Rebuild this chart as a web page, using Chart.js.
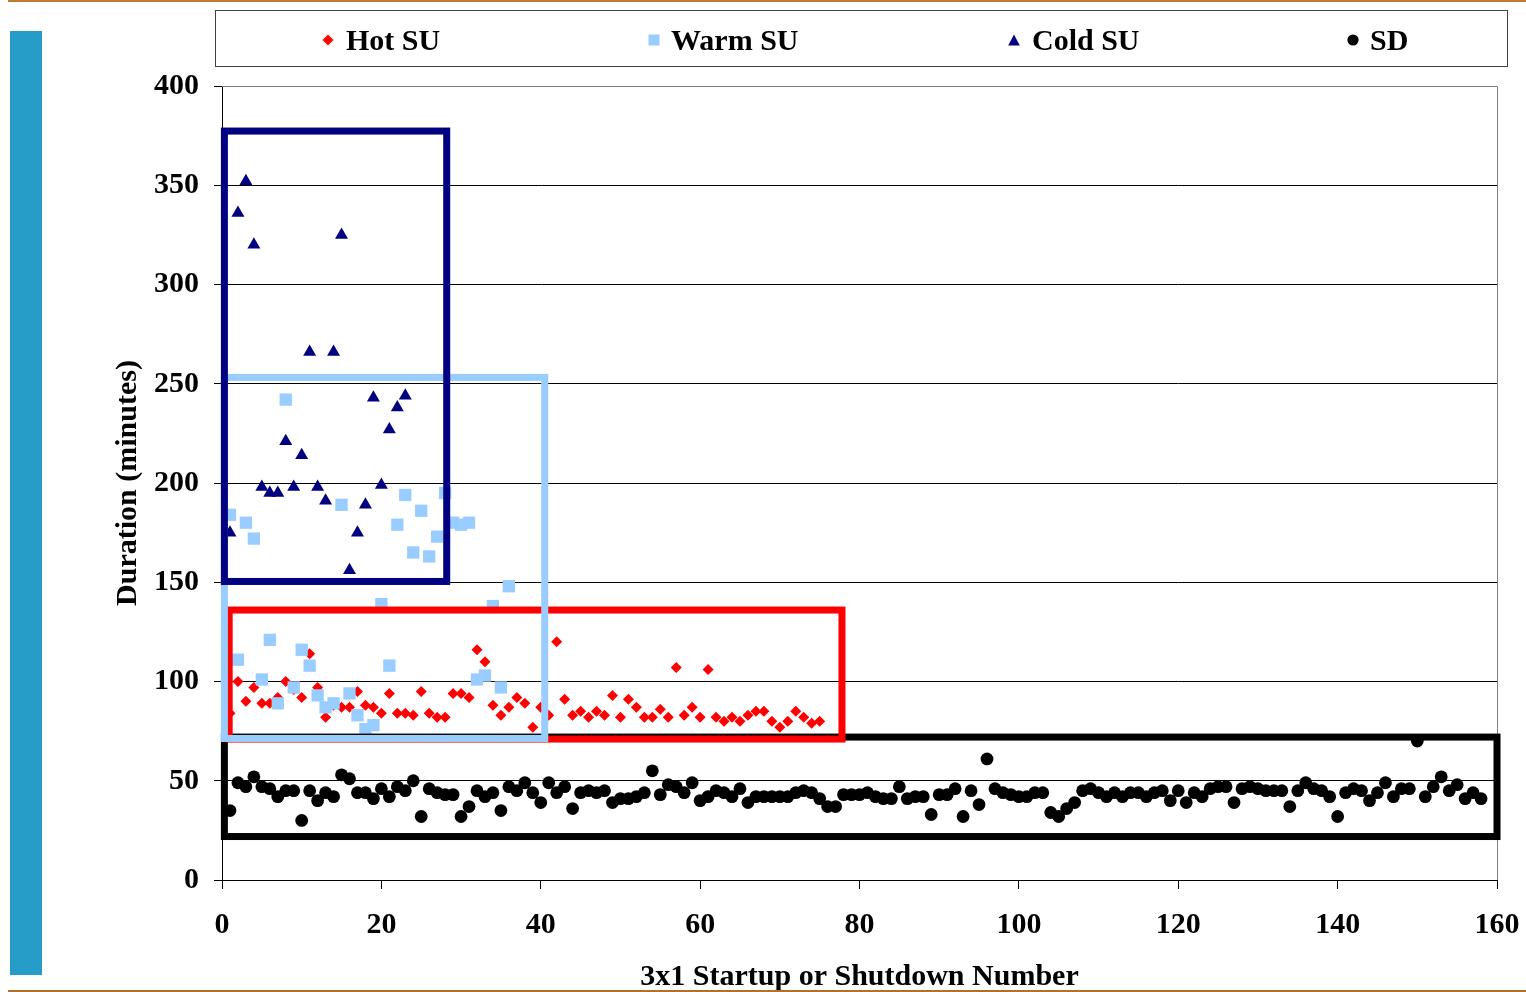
<!DOCTYPE html>
<html>
<head>
<meta charset="utf-8">
<script src="https://cdn.jsdelivr.net/npm/chart.js@4.4.1/dist/chart.umd.min.js"></script>
<style>
html,body{margin:0;padding:0;background:#fff;overflow:hidden;width:1526px;height:992px;}
#wrap{position:absolute;left:0;top:0;width:1526px;height:1000px;}
#topline{position:absolute;left:8px;top:0;width:1518px;height:2px;background:#C27A2E;}
#botline{position:absolute;left:8px;top:990px;width:1518px;height:2px;background:#B56F2C;}
#bar{position:absolute;left:10px;top:31px;width:32px;height:944px;background:#269CC8;}
#legend{position:absolute;left:215px;top:10px;width:1291px;height:55px;border:1px solid #404040;}
.lt{position:absolute;top:22px;font:bold 30px "Liberation Serif","Times New Roman",serif;line-height:36px;color:#000;white-space:nowrap;}
.lm{position:absolute;}
</style>
</head>
<body>
<div id="topline"></div>
<div id="bar"></div>
<div id="wrap"><canvas id="c"></canvas></div>
<div id="legend"></div>
<svg class="lm" style="left:322px;top:34px" width="12" height="12"><polygon points="6,0.5 11.5,6 6,11.5 0.5,6" fill="#FF0000"/></svg>
<span class="lt" style="left:346px">Hot SU</span>
<svg class="lm" style="left:648px;top:34px" width="12" height="12"><rect x="0.5" y="0.5" width="11" height="11" fill="#99CCFF"/></svg>
<span class="lt" style="left:671px">Warm SU</span>
<svg class="lm" style="left:1008px;top:34px" width="12" height="12"><polygon points="6,0.5 11.8,11.5 0.2,11.5" fill="#000080"/></svg>
<span class="lt" style="left:1032px">Cold SU</span>
<svg class="lm" style="left:1347px;top:34px" width="12" height="12"><circle cx="6" cy="6" r="5.6" fill="#000"/></svg>
<span class="lt" style="left:1370px">SD</span>
<div id="botline"></div>
<script>
// ---- data (index + 1 = startup / shutdown number) ----
const hotSU = [84,100,90,97,89,89,92,100,96,92,114,97,82,88,87,87,95,88,87,84,
               94,84,84,83,95,84,82,82,94,94,92,116,110,88,83,87,92,89,77,87,
               83,120,91,83,85,82,85,83,93,82,91,87,82,82,86,82,107,83,87,82,
               106,82,80,82,80,83,85,85,80,77,80,85,82,79,80];
const warmSU = [184,111,180,172,101,121,89,242,97,116,108,93,87,89,189,94,83,76,78,139,
                108,179,194,165,186,163,173,195,180,179,180,101,103,138,97,148];
const coldSU = [175,336,352,320,198,195,195,221,198,214,266,198,191,266,325,156,175,189,243,199,
                227,238,244];
const sd = [35,49,47,52,47,46,42,45,45,30,45,40,44,42,53,51,44,44,41,46,
            42,47,45,50,32,46,44,43,43,32,37,45,42,44,35,47,45,49,44,39,
            49,44,47,36,44,45,44,45,39,41,41,42,44,55,43,48,47,44,49,40,
            42,45,44,42,46,39,42,42,42,42,42,44,45,44,41,37,37,43,43,43,
            44,42,41,41,47,41,42,42,33,43,43,46,32,45,38,61,46,44,43,42,
            42,44,44,34,32,36,39,45,46,44,42,44,42,44,44,42,44,45,40,45,
            39,44,42,46,47,47,39,46,47,46,45,45,45,37,45,49,46,45,42,32,
            44,46,45,40,44,49,42,46,46,70,42,47,52,45,48,41,44,41];
const xTickStep = 20, xMin = 0, xMax = 160;
const yTickStep = 50, yMin = 0, yMax = 400;
const seriesLabels = ['Hot SU','Warm SU','Cold SU','SD'];

const toPts = arr => arr.map((v, i) => ({x: i + 1, y: v}));

// highlight boxes (data coordinates)
const regionBoxes = [
  {x0:0.3, x1:160,  y0:21.9, y1:72,    color:'#000000', width:7},
  {x0:0.9, x1:77.8, y0:71,   y1:136,   color:'#FF0000', width:7},
  {x0:0.3, x1:40.5, y0:71.3, y1:253.2, color:'#99CCFF', width:7},
  {x0:0.3, x1:28.2, y0:150.4,y1:377.3, color:'#000080', width:7}
];

const font = {family:'"Liberation Serif","Times New Roman",serif', size:30, weight:'bold'};

const framePlugin = {
  id:'frame',
  beforeDatasetsDraw(chart){
    const {ctx, chartArea:a} = chart;
    ctx.save();
    ctx.strokeStyle = '#808080';
    ctx.lineWidth = 1;
    ctx.beginPath();
    ctx.moveTo(a.left, Math.round(a.top)+0.5);
    ctx.lineTo(Math.round(a.right)+0.5, Math.round(a.top)+0.5);
    ctx.lineTo(Math.round(a.right)+0.5, a.bottom);
    ctx.stroke();
    ctx.restore();
  }
};
const boxPlugin = {
  id:'boxes',
  afterDatasetsDraw(chart){
    const {ctx, scales:{x, y}} = chart;
    ctx.save();
    ctx.lineJoin = 'miter';
    regionBoxes.forEach(b => {
      const l = x.getPixelForValue(b.x0), r = x.getPixelForValue(b.x1);
      const t = y.getPixelForValue(b.y1), bt = y.getPixelForValue(b.y0);
      ctx.strokeStyle = b.color;
      ctx.lineWidth = b.width;
      ctx.strokeRect(l, t, r - l, bt - t);
    });
    ctx.restore();
  }
};

new Chart(document.getElementById('c'), {
  type:'scatter',
  data:{datasets:[
    {label:seriesLabels[0], data:toPts(hotSU), pointStyle:'rectRot', pointRadius:5.5, borderWidth:0,
     backgroundColor:'#FF0000', borderColor:'#FF0000', order:4},
    {label:seriesLabels[1], data:toPts(warmSU), pointStyle:'rect', pointRadius:8.7, borderWidth:0,
     backgroundColor:'#99CCFF', borderColor:'#99CCFF', order:3},
    {label:seriesLabels[2], data:toPts(coldSU), pointStyle:'triangle', pointRadius:7.5, borderWidth:0,
     backgroundColor:'#000080', borderColor:'#000080', order:2},
    {label:seriesLabels[3], data:toPts(sd), pointStyle:'circle', pointRadius:6.4, borderWidth:0,
     backgroundColor:'#000000', borderColor:'#000000', order:1}
  ]},
  options:{
    responsive:true, maintainAspectRatio:false, animation:false,
    layout:{padding:{left:100, top:86, right:29, bottom:0}},
    plugins:{legend:{display:false}, tooltip:{enabled:false}},
    elements:{point:{hoverRadius:0}},
    scales:{
      x:{type:'linear', min:xMin, max:xMax,
         ticks:{stepSize:xTickStep, font, color:'#000', padding:18, maxRotation:0},
         grid:{drawOnChartArea:false, drawTicks:true, tickLength:9, color:'#000', tickColor:'#000'},
         border:{color:'#000', width:1},
         title:{display:true, text:'3x1 Startup or Shutdown Number', font, color:'#000', padding:{top:0, bottom:5}},
         afterFit(s){ s.height = 120; s.paddingLeft = 0; s.paddingRight = 0; }},
      y:{type:'linear', min:yMin, max:yMax,
         ticks:{stepSize:yTickStep, font, color:'#000', padding:15},
         grid:{color:c => (c.tick && c.tick.value === yMax) ? '#808080' : '#000', tickColor:'#000', tickLength:8},
         border:{color:'#000', width:1},
         title:{display:true, text:'Duration (minutes)', font, color:'#000', padding:{top:10, bottom:0}},
         afterFit(s){ s.width = 122; s.paddingTop = 0; s.paddingBottom = 0; }}
    }
  },
  plugins:[framePlugin, boxPlugin]
});
</script>
</body>
</html>
